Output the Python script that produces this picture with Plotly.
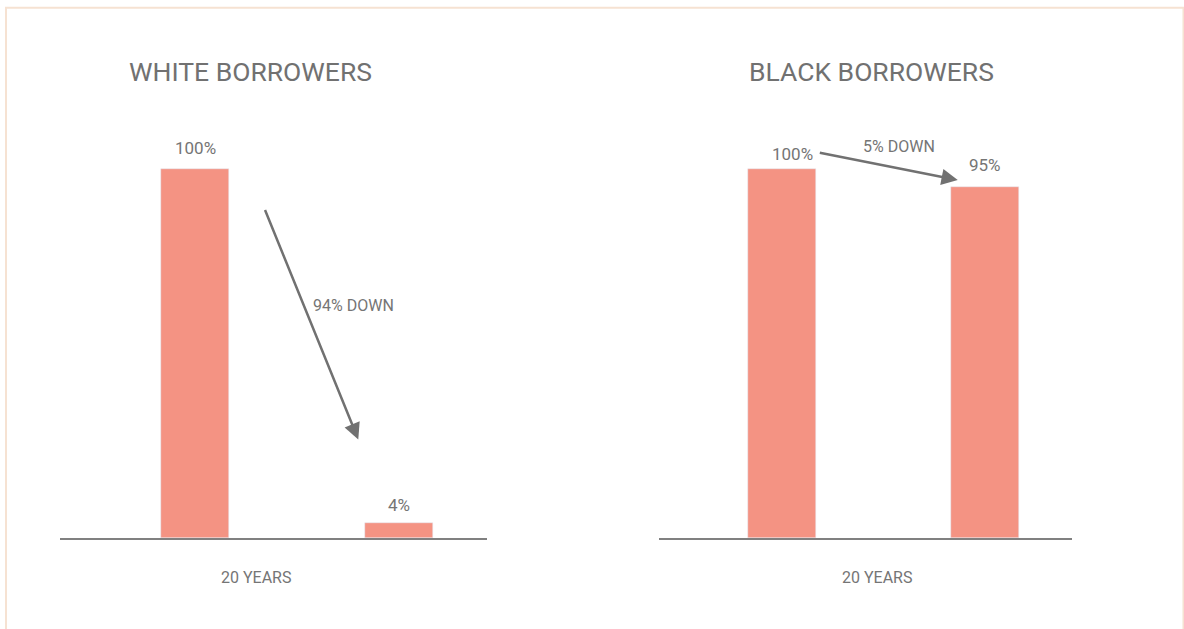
import plotly.graph_objects as go

# ---- data ----
categories = ["START", "AFTER 20 YEARS"]
white_values = [100, 4]
black_values = [100, 95]
panel_titles = ["WHITE BORROWERS", "BLACK BORROWERS"]
change_labels = ["94% DOWN", "5% DOWN"]
period_label = "20 YEARS"

W, H = 1184, 629
BAR = "#F49383"
TXT = "#757575"
FONT = "Roboto"


def px(x):
    return x / W


def py(y):
    return 1 - y / H


fig = go.Figure()
fig.add_trace(go.Bar(x=categories, y=white_values, marker_color=BAR, width=0.333,
                     xaxis="x", yaxis="y", showlegend=False, hoverinfo="skip"))
fig.add_trace(go.Bar(x=categories, y=black_values, marker_color=BAR, width=0.335,
                     xaxis="x2", yaxis="y2", showlegend=False, hoverinfo="skip"))

ydom = [py(538), py(100)]
yrange = [0, 118.7]
axis_common = dict(showline=True, linecolor="#808080", linewidth=2, showticklabels=False,
                   ticks="", showgrid=False, zeroline=False, fixedrange=True)
fig.update_layout(
    width=W, height=H,
    xaxis=dict(domain=[px(60), px(487)], range=[-0.662, 1.431], anchor="y", **axis_common),
    yaxis=dict(domain=ydom, range=yrange, visible=False, anchor="x", fixedrange=True),
    xaxis2=dict(domain=[px(659), px(1072)], range=[-0.606, 1.429], anchor="y2", **axis_common),
    yaxis2=dict(domain=ydom, range=yrange, visible=False, anchor="x2", fixedrange=True),
    margin=dict(l=0, r=0, t=0, b=0),
    paper_bgcolor="white",
    plot_bgcolor="rgba(0,0,0,0)",
    font=dict(family=FONT, color=TXT),
    bargap=0,
)

ann = []
# value labels (offsets are styling only)
label_shift = [[(0, 9), (0, 6)], [(11, 3), (0, 10)]]
for p, (vals, xr, yr) in enumerate([(white_values, "x", "y"), (black_values, "x2", "y2")]):
    for i, (c, v) in enumerate(zip(categories, vals)):
        dx, dy = label_shift[p][i]
        ann.append(dict(x=c, y=v, xref=xr, yref=yr, text=f"{v}%", showarrow=False,
                        yanchor="bottom", xshift=dx, yshift=dy,
                        font=dict(size=17, color=TXT, family=FONT)))

# panel titles
for t, cx in zip(panel_titles, [250.5, 871]):
    ann.append(dict(x=px(cx), y=py(71), xref="paper", yref="paper", text=t, showarrow=False,
                    xanchor="center", yanchor="middle",
                    font=dict(size=26.5, color="#717171", family=FONT)))

# period labels
for cx in [256, 876.5]:
    ann.append(dict(x=px(cx), y=py(577), xref="paper", yref="paper", text=period_label,
                    showarrow=False, xanchor="center", yanchor="middle",
                    font=dict(size=16, color=TXT, family=FONT)))

# arrows
ARROW = "#717171"
ann.append(dict(x=0.80, y=26.7, ax=0.34, ay=89.3, xref="x", yref="y", axref="x", ayref="y",
                text="", showarrow=True, arrowhead=2, arrowsize=1.3, arrowwidth=2.5,
                arrowcolor=ARROW, standoff=0))
ann.append(dict(x=0.866, y=97.0, ax=0.179, ay=104.5, xref="x2", yref="y2", axref="x2", ayref="y2",
                text="", showarrow=True, arrowhead=2, arrowsize=1.3, arrowwidth=2.5,
                arrowcolor=ARROW, standoff=0))
ann.append(dict(x=0.779, y=62.9, xref="x", yref="y", text=change_labels[0], showarrow=False,
                xanchor="center", yanchor="middle", font=dict(size=16, color=TXT, family=FONT)))
ann.append(dict(x=0.576, y=106, xref="x2", yref="y2", text=change_labels[1], showarrow=False,
                xanchor="center", yanchor="middle", font=dict(size=16, color=TXT, family=FONT)))

fig.update_layout(annotations=ann)

# outer border
fig.add_shape(type="rect", xref="paper", yref="paper", x0=px(6), x1=px(1183.5),
              y0=-0.05, y1=py(7.7), line=dict(color="#F6E2D2", width=2), fillcolor="rgba(0,0,0,0)",
              layer="below")

fig.write_html("out.html", config={"displayModeBar": False},
               post_script="document.body.style.margin='0';document.body.style.overflow='hidden';")
